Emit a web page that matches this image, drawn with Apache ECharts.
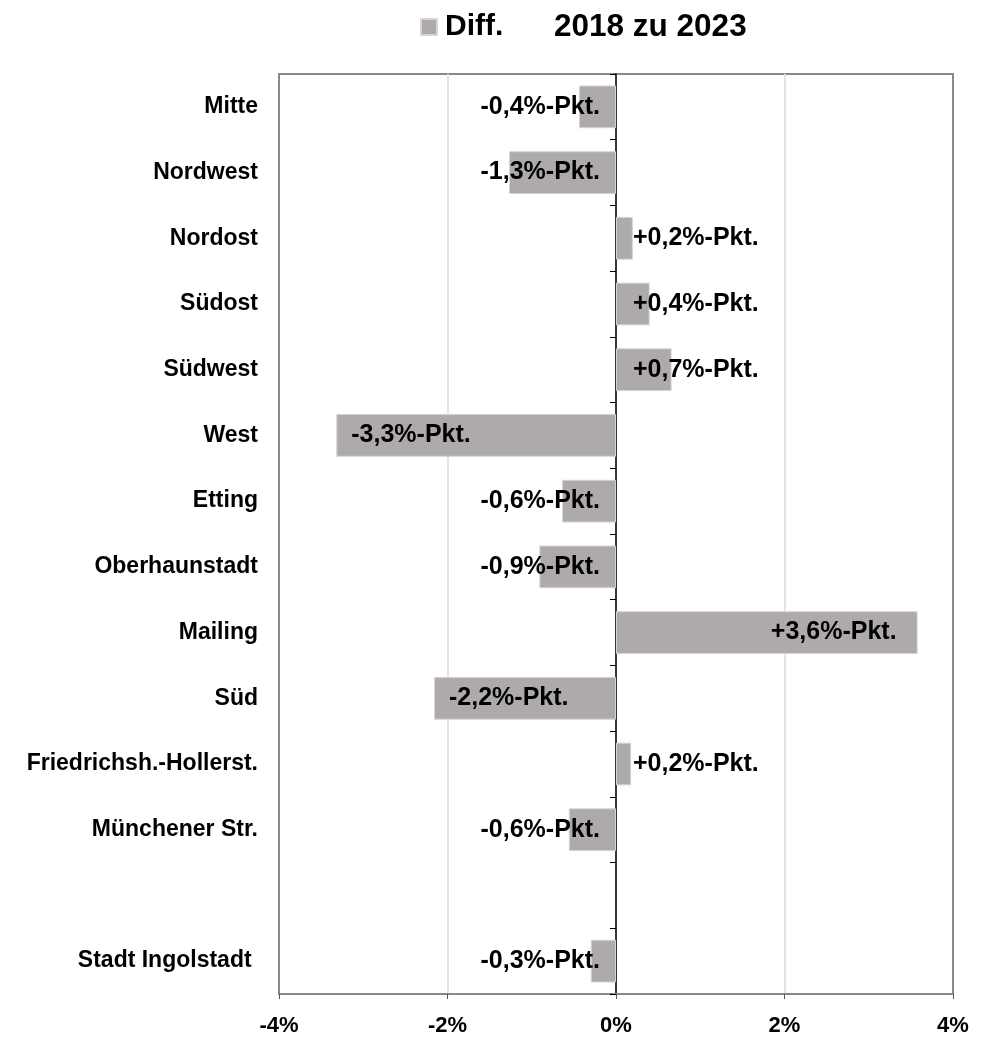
<!DOCTYPE html>
<html>
<head>
<meta charset="utf-8">
<script src="https://cdn.jsdelivr.net/npm/echarts@6/dist/echarts.min.js"></script>
<style>
    html, body { margin: 0; padding: 0; background: #fff; }
    #chart { width: 989px; height: 1037px; }
</style>
</head>
<body>
<div id="chart"></div>
<script>
// Kategorien (leere Zeile vor Stadt Ingolstadt)
const categories = [
    'Mitte', 'Nordwest', 'Nordost', 'Südost', 'Südwest', 'West', 'Etting',
    'Oberhaunstadt', 'Mailing', 'Süd', 'Friedrichsh.-Hollerst.', 'Münchener Str.',
    '', 'Stadt Ingolstadt '
];
// Differenz 2018 zu 2023 in %-Punkten
const diffValues = [
    -0.44, -1.27, 0.2, 0.4, 0.66, -3.32, -0.64,
    -0.91, 3.58, -2.16, 0.18, -0.56,
    null, -0.3
];
const xMin = -4;
const xMax = 4;
const xInterval = 2;

const FONT = 'Liberation Sans, Arial, sans-serif';
const BAR_COLOR = '#AEAAAA';

function formatDiff(v) {
    const s = (v > 0 ? '+' : '') + v.toFixed(1).replace('.', ',');
    return s + '%-Pkt.';
}

// Label-Lage wie im Original: lange Balken innen am Ende, kurze an der Nulllinie
function labelFor(v) {
    if (v < 0) {
        return v <= -2
            ? { position: 'insideLeft', distance: 15 }
            : { position: 'insideRight', distance: 16 };
    }
    return v >= 3
        ? { position: 'insideRight', distance: 21 }
        : { position: 'insideLeft', distance: 17 };
}

const chart = echarts.init(document.getElementById('chart'));
chart.setOption({
    animation: false,
    title: {
        text: '2018 zu 2023',
        left: 554,
        top: 11,
        padding: 0,
        textStyle: {
            fontFamily: FONT,
            fontSize: 31.5,
            fontWeight: 'bold',
            color: '#000'
        }
    },
    legend: {
        data: ['Diff.'],
        left: 420,
        top: 12,
        padding: 0,
        icon: 'rect',
        itemWidth: 16,
        itemHeight: 16,
        textStyle: {
            fontFamily: FONT,
            fontSize: 30,
            fontWeight: 'bold',
            color: '#000',
            padding: [10, 0, 0, 3]
        }
    },
    grid: {
        left: 279,
        right: 36,
        top: 74,
        bottom: 43,
        show: true,
        borderColor: '#888',
        borderWidth: 2,
        outerBoundsMode: 'none'
    },
    xAxis: {
        type: 'value',
        min: xMin,
        max: xMax,
        interval: xInterval,
        axisLine: {
            show: true,
            onZero: false,
            lineStyle: { color: '#888', width: 2 }
        },
        axisTick: {
            show: true,
            length: 5,
            lineStyle: { color: '#555', width: 1 }
        },
        axisLabel: {
            formatter: v => v + '%',
            fontFamily: FONT,
            fontSize: 22,
            fontWeight: 'bold',
            color: '#000',
            margin: 21
        },
        splitLine: {
            show: true,
            showMinLine: false,
            showMaxLine: false,
            lineStyle: { color: '#e3e3e3', width: 2 }
        }
    },
    yAxis: [
        {
            type: 'category',
            inverse: true,
            data: categories,
            axisLine: { show: false, onZero: false },
            axisTick: { show: false },
            axisLabel: {
                fontFamily: FONT,
                fontSize: 23,
                fontWeight: 'bold',
                color: '#000',
                margin: 21
            }
        },
        {
            // Nulllinie mit Teilstrichen
            type: 'category',
            inverse: true,
            position: 'left',
            data: categories,
            axisLine: {
                show: true,
                onZero: true,
                lineStyle: { color: '#000', width: 1.5 }
            },
            axisTick: {
                show: true,
                length: 6,
                lineStyle: { color: '#000', width: 1 }
            },
            axisLabel: { show: false },
            splitLine: { show: false }
        }
    ],
    series: [
        {
            name: 'Diff.',
            type: 'bar',
            yAxisIndex: 0,
            barWidth: '65%',
            itemStyle: {
                color: BAR_COLOR,
                borderColor: '#d6d4d4',
                borderWidth: 1
            },
            label: {
                show: true,
                fontFamily: FONT,
                fontSize: 25,
                fontWeight: 'bold',
                color: '#000',
                formatter: p => formatDiff(p.value)
            },
            data: diffValues.map(v => v === null ? '-' : { value: v, label: labelFor(v) })
        }
    ]
});
</script>
</body>
</html>
